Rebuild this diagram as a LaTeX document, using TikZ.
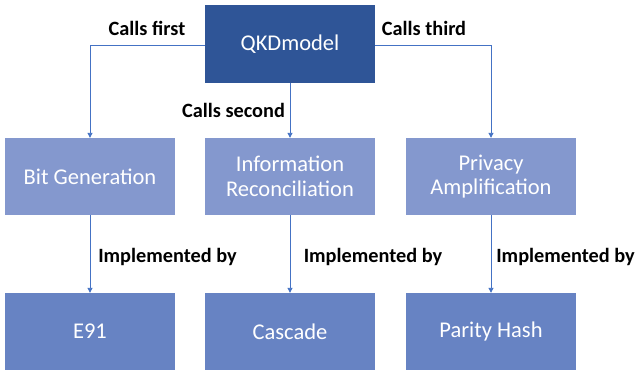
\documentclass[tikz,border=0pt]{standalone}
\usepackage{fontspec}
\setmainfont{Carlito}
\usetikzlibrary{arrows.meta}
\definecolor{topblue}{RGB}{47,85,151}
\definecolor{midblue}{RGB}{132,152,206}
\definecolor{lowblue}{RGB}{103,131,195}
\definecolor{linkblue}{RGB}{68,114,196}
\tikzset{
  box/.style={minimum width=170pt, minimum height=77pt, inner sep=0pt,
    text=white, align=center, font=\fontsize{22.5}{24.5}\selectfont},
  topbox/.style={box, fill=topblue, minimum height=78pt},
  midbox/.style={box, fill=midblue},
  lowbox/.style={box, fill=lowblue},
  link/.style={draw=linkblue, line width=0.9pt, -{Triangle[length=5pt,width=5pt]}},
  tag/.style={font=\bfseries\fontsize{20.3}{22}\selectfont, text=black, inner sep=0pt}
}
\begin{document}
\begin{tikzpicture}[x=1pt, y=-1pt]
\useasboundingbox[fill=white] (0,0) rectangle (635,372);
% boxes
\node[topbox] (qkd) at (290,44) {QKDmodel};
\node[midbox] (bit) at (90,176.5) {Bit Generation};
\node[midbox] (rec) at (290,176.5) {Information\\Reconciliation};
\node[midbox] (pa) at (491,176.5) {Privacy\\Amplification};
\node[lowbox] (e91) at (90,331.5) {E91};
\node[lowbox] (cas) at (290,331.5) {Cascade};
\node[lowbox] (ph) at (491,331.5) {Parity Hash};
% calls from the model
\draw[link] (qkd.west |- 0,45) -| (bit.north);
\draw[link] (qkd.south) -- (rec.north);
\draw[link] (qkd.east |- 0,45) -| (pa.north);
% implementations
\draw[link] (bit.south) -- (e91.north);
\draw[link] (rec.south) -- (cas.north);
\draw[link] (pa.south) -- (ph.north);
% edge labels
\node[tag] (l1) at (147,28) {Calls first};
\node[tag] (l2) at (233.5,110) {Calls second};
\node[tag] (l3) at (424,28) {Calls third};
\node[tag] (l4) at (167.5,257) {Implemented by};
\node[tag] (l5) at (373,257) {Implemented by};
\node[tag] (l6) at (565.5,257) {Implemented by};
\end{tikzpicture}
\end{document}
